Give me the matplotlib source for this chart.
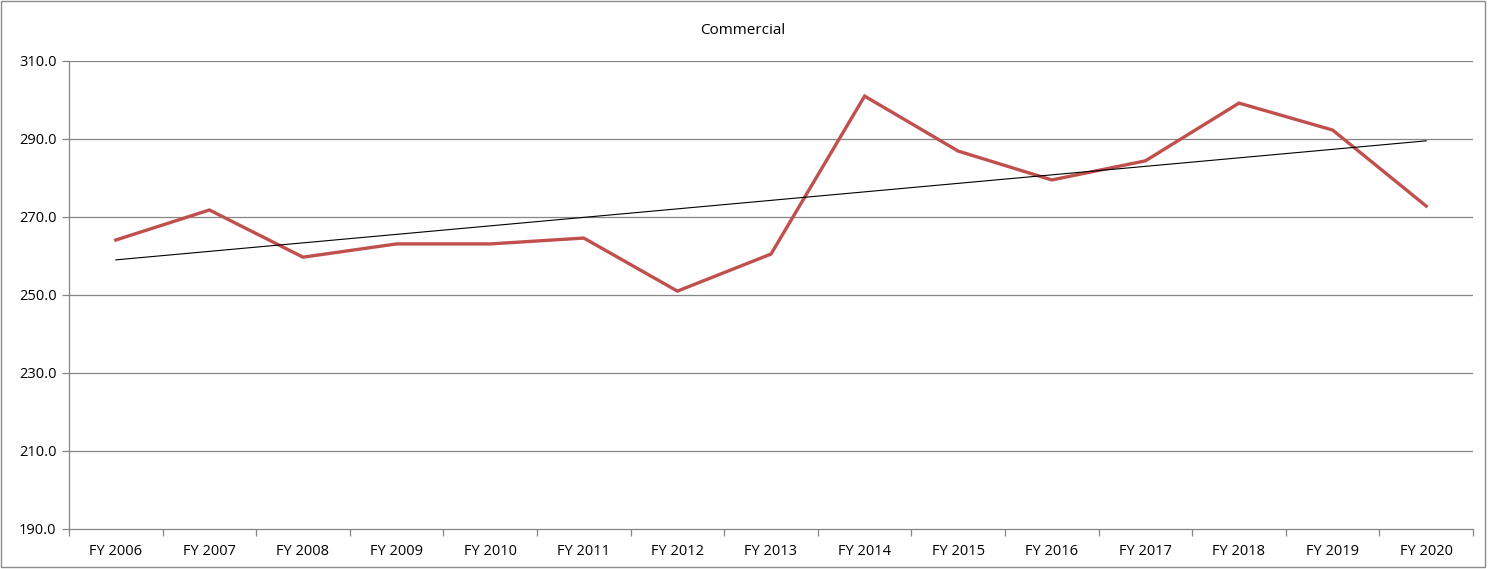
import matplotlib.pyplot as plt
import matplotlib
import numpy as np
from matplotlib.patches import Rectangle

matplotlib.rcParams["font.family"] = ["Open Sans", "DejaVu Sans"]
matplotlib.rcParams["font.size"] = 10.5

years = ["FY 2006", "FY 2007", "FY 2008", "FY 2009", "FY 2010", "FY 2011", "FY 2012",
         "FY 2013", "FY 2014", "FY 2015", "FY 2016", "FY 2017", "FY 2018", "FY 2019", "FY 2020"]
commercial = [264.1, 271.8, 259.7, 263.1, 263.1, 264.6, 251.0,
              260.5, 301.0, 286.9, 279.5, 284.4, 299.2, 292.3, 272.8]
y_ticks = [190, 210, 230, 250, 270, 290, 310]

x = np.arange(len(years))
slope, inter = np.polyfit(x, commercial, 1)
trend = slope * x + inter

fig = plt.figure(figsize=(14.88, 5.69), dpi=100)
ax = fig.add_axes([69/1488, 1 - 529/569, (1473-69)/1488, (529-61)/569])

grid_c = "#868686"
for t in y_ticks[1:]:
    ax.axhline(t, color=grid_c, lw=0.9, zorder=1)

ax.plot(x, commercial, color="#C0504D", lw=2.4, zorder=3, solid_joinstyle="miter")
ax.plot(x, trend, color="black", lw=0.8, zorder=4)

ax.set_xlim(-0.5, len(years) - 0.5)
ax.set_ylim(190, 310)
ax.set_yticks(y_ticks)
ax.set_yticklabels([f"{t:.1f}" for t in y_ticks])
ax.set_xticks(x)
ax.set_xticklabels(years)
ax.set_xticks(np.arange(-0.5, len(years)), minor=True)
ax.tick_params(axis="x", which="major", length=0, pad=11)
ax.tick_params(axis="x", which="minor", length=5, color=grid_c, width=0.9)
ax.tick_params(axis="y", length=5, color=grid_c, width=0.9, pad=4)

for s in ["top", "right"]:
    ax.spines[s].set_visible(False)
for s in ["left", "bottom"]:
    ax.spines[s].set_color(grid_c)
    ax.spines[s].set_linewidth(0.9)

fig.text(743/1488, 1 - 30/569, "Commercial", ha="center", va="center", fontsize=11)

fig.patches.append(Rectangle((0.001, 0.003), 0.997, 0.995, transform=fig.transFigure,
                             fill=False, edgecolor="#8c8c8c", lw=1))

fig.savefig("out.png", dpi=100)
